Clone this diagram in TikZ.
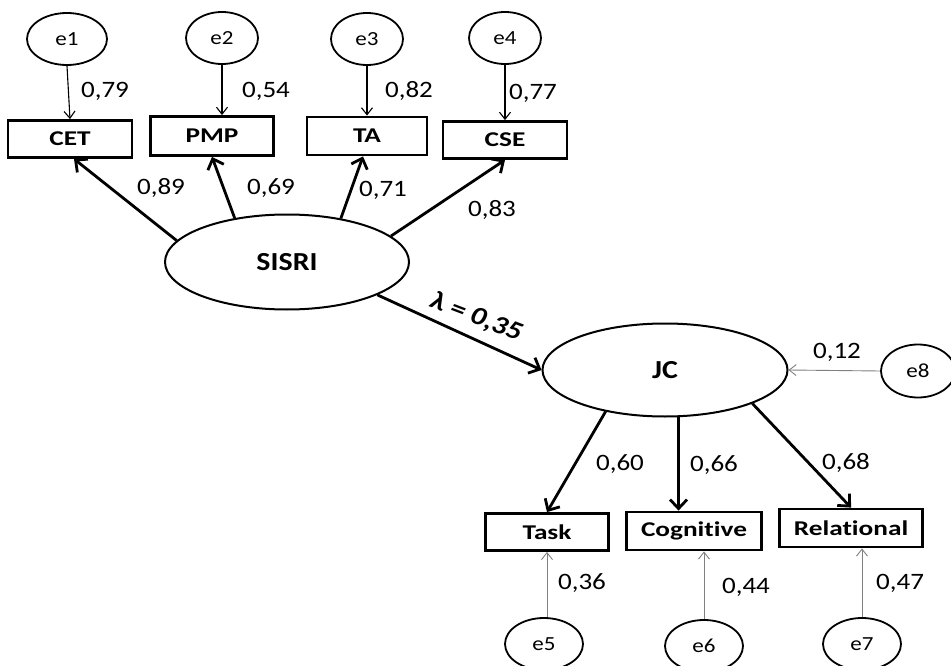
\documentclass[tikz,border=0pt]{standalone}
\usepackage{fontspec}
\setmainfont{Carlito}[FakeStretch=1.15,Ligatures=NoCommon]
\newfontfamily\boxfont{Carlito}[FakeStretch=1.3,Ligatures=NoCommon]
\usetikzlibrary{shapes.geometric,arrows.meta}
\tikzset{
  err/.style={ellipse,draw,line width=1.8pt,inner sep=0pt,minimum width=74pt,minimum height=52pt,font=\fontsize{20}{22}\selectfont},
  latent/.style={ellipse,draw,line width=2pt,inner sep=0pt,font=\fontsize{26}{28}\selectfont\bfseries},
  obs/.style={rectangle,draw,line width=2.8pt,inner sep=0pt,font=\boxfont\fontsize{21}{23}\selectfont\bfseries},
  coef/.style={inner sep=0pt,font=\fontsize{23.5}{25}\selectfont},
  thickarrow/.style={line width=2.8pt,-{Straight Barb[length=9pt,width=17pt]}},
  thinarrow/.style={line width=1.1pt,-{Straight Barb[length=7pt,width=11pt]}},
  grayarrow/.style={line width=0.9pt,draw=black!50,-{Straight Barb[length=7pt,width=11pt]}}
}
\begin{document}
\begin{tikzpicture}[x=1pt,y=-1pt]
\useasboundingbox (0,0) rectangle (951,666);
% error terms top
\node[err,minimum width=80pt] (e1) at (67,39) {e1};
\node[err,minimum width=72pt] (e2) at (222,38) {e2};
\node[err,minimum width=72pt] (e3) at (367,39) {e3};
\node[err,minimum width=72pt] (e4) at (505,38) {e4};
% observed top
\node[obs,minimum width=124pt,minimum height=37pt] (CET) at (70,139) {CET};
\node[obs,minimum width=123pt,minimum height=39pt] (PMP) at (212,136) {PMP};
\node[obs,minimum width=120pt,minimum height=38pt] (TA) at (367,136) {TA};
\node[obs,minimum width=124pt,minimum height=37pt] (CSE) at (505,140) {CSE};
% latent
\node[latent,minimum width=244pt,minimum height=95pt] (SISRI) at (287,262) {SISRI};
\node[latent,minimum width=245pt,minimum height=93pt] (JC) at (665,370) {JC};
\node[err,minimum width=74pt,minimum height=53pt] (e8) at (918,371) {e8};
% observed bottom
\node[obs,minimum width=123pt,minimum height=37pt] (Task) at (547,532) {Task};
\node[obs,minimum width=135pt,minimum height=38pt] (Cognitive) at (694,531) {Cognitive};
\node[obs,minimum width=143pt,minimum height=38pt] (Relational) at (851,528) {Relational};
% error terms bottom
\node[err,minimum width=78pt] (e5) at (544,644) {e5};
\node[err,minimum width=78pt] (e6) at (704,646) {e6};
\node[err,minimum width=78pt] (e7) at (862,644) {e7};
% error arrows top
\draw[thinarrow] (e1.south) -- (CET.north);
\draw[thinarrow] (e2.south) -- (e2.south |- PMP.north);
\draw[thinarrow] (e3.south) -- (TA.north);
\draw[thinarrow] (e4.south) -- (CSE.north);
% loadings SISRI
\draw[thickarrow] (SISRI.169) -- ([xshift=4pt]CET.south);
\draw[thickarrow] (SISRI.140) -- (PMP.south);
\draw[thickarrow] (SISRI.39) -- ([xshift=-4pt]TA.south);
\draw[thickarrow] (SISRI.14) -- (CSE.south);
% structural path
\draw[thickarrow] (SISRI.-20) -- (JC.west);
% JC loadings
\draw[thickarrow] (JC.-145) -- (Task.north);
\draw[thickarrow] (JC.-74) -- (JC.-74 |- Cognitive.north);
\draw[thickarrow] (JC.-21) -- (Relational.north);
% gray error arrows
\draw[grayarrow] (e8.west) -- (JC.east);
\draw[grayarrow] (Task.south |- e5.north) -- (Task.south);
\draw[grayarrow] (e6.north) -- (e6.north |- Cognitive.south);
\draw[grayarrow] (e7.north) -- (e7.north |- Relational.south);
% coefficients
\node[coef] (c1) at (105,91) {0,79};
\node[coef] (c2) at (266,91) {0,54};
\node[coef] (c3) at (409,91) {0,82};
\node[coef] (c4) at (533,93) {0,77};
\node[coef] (c5) at (161,188) {0,89};
\node[coef] (c6) at (271,188) {0,69};
\node[coef] (c7) at (383,190) {0,71};
\node[coef] (c8) at (492,210) {0,83};
\node[inner sep=0pt,font=\fontsize{26}{28}\selectfont\bfseries\itshape,rotate=-21] (lam) at (476,317) {λ = 0,35};
\node[coef] (c9) at (837,352) {0,12};
\node[coef] (c10) at (620,464) {0,60};
\node[coef] (c11) at (714,465) {0,66};
\node[coef] (c12) at (846,463) {0,68};
\node[coef] (c13) at (582,583) {0,36};
\node[coef] (c14) at (746,587) {0,44};
\node[coef] (c15) at (900,583) {0,47};
\end{tikzpicture}
\end{document}
